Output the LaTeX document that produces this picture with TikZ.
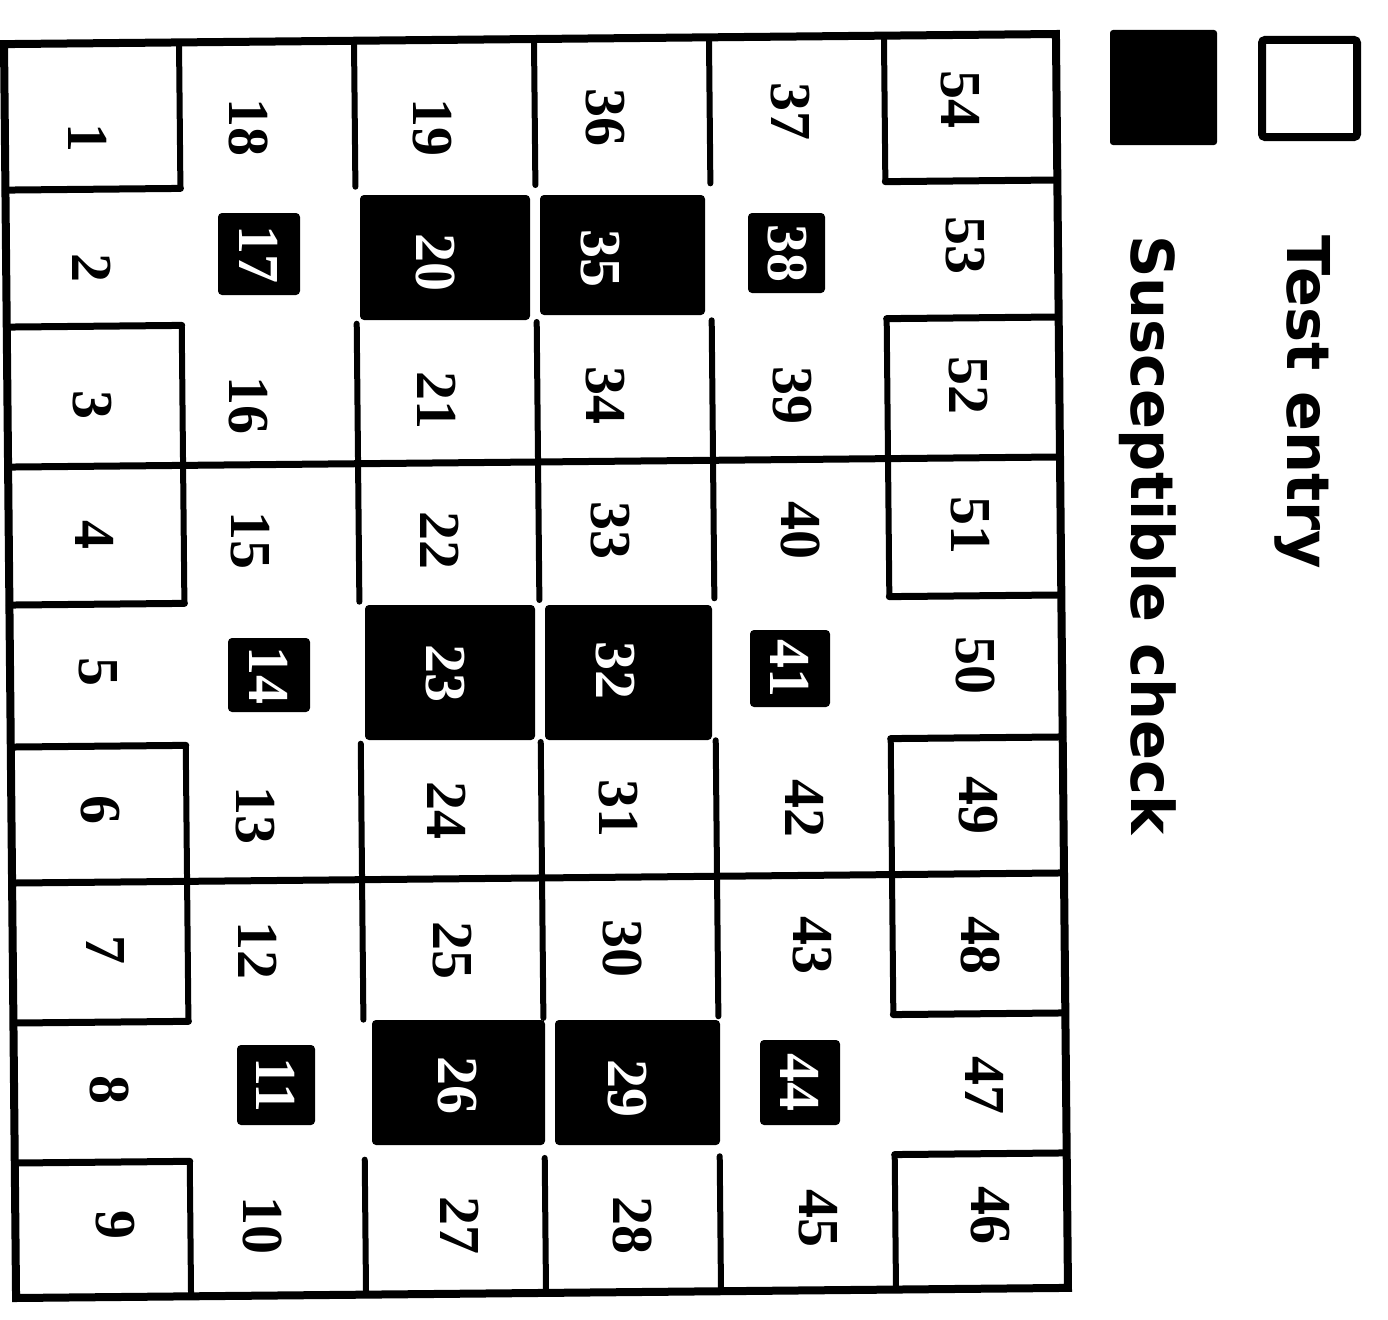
\documentclass[tikz,border=0pt]{standalone}
\usepackage{fontspec}
\setmainfont{Liberation Serif}
\newfontfamily\legendfont{DejaVu Sans}
\begin{document}
\begin{tikzpicture}[x=1pt,y=-1pt,
  num/.style={font=\bfseries\fontsize{58}{60}\selectfont, rotate=-90, inner sep=0pt},
  wnum/.style={num, text=white},
  blk/.style={fill=black, rounded corners=4pt},
  gline/.style={line width=7pt, line cap=round},
  legtext/.style={font=\legendfont\bfseries\fontsize{59}{64}\selectfont, rotate=-90, inner sep=0pt, anchor=base west}]
\useasboundingbox (0,0) rectangle (1388,1319);
% grid lines (slightly tilted like the scan)
\begin{scope}[rotate around={0.55:(536,666)}]
  \draw[gline, line width=8pt, line cap=butt, line join=miter] (10,39) rectangle (1062,1293);
  \draw[gline] (10,462) -- (1062,462);
  \draw[gline] (10,878) -- (1062,878);
  \foreach \xa in {185,360,540,715,890}
    \foreach \ya/\yb in {39/185, 322/600, 742/1018, 1158/1293}
      \draw[gline, line width=6pt] (\xa,\ya) -- (\xa,\yb);
  \foreach \ya in {185,322,600,742,1018,1158} {
    \draw[gline] (10,\ya) -- (185,\ya);
    \draw[gline] (890,\ya) -- (1062,\ya);
  }
\end{scope}
% susceptible check cells
\fill[blk] (360,195) rectangle (530,320);
\fill[blk] (540,195) rectangle (705,315);
\fill[blk] (365,605) rectangle (535,740);
\fill[blk] (545,605) rectangle (712,740);
\fill[blk] (372,1020) rectangle (545,1145);
\fill[blk] (555,1020) rectangle (720,1145);
\fill[blk] (218,213) rectangle (300,295);
\fill[blk] (748,213) rectangle (825,293);
\fill[blk] (228,638) rectangle (310,712);
\fill[blk] (750,630) rectangle (830,707);
\fill[blk] (237,1045) rectangle (315,1125);
\fill[blk] (760,1040) rectangle (840,1125);
% column 0
\node[num] (n1) at (88,138) {1};
\node[num] (n2) at (92,268) {2};
\node[num] (n3) at (92,405) {3};
\node[num] (n4) at (95,535) {4};
\node[num] (n5) at (98,672) {5};
\node[num] (n6) at (100,810) {6};
\node[num] (n7) at (105,950) {7};
\node[num] (n8) at (110,1090) {8};
\node[num] (n9) at (115,1225) {9};
% column 1
\node[num] (n18) at (248,128) {18};
\node[wnum] (n17) at (259,254) {17};
\node[num] (n16) at (248,405) {16};
\node[num] (n15) at (250,540) {15};
\node[wnum] (n14) at (269,675) {14};
\node[num] (n13) at (255,815) {13};
\node[num] (n12) at (258,950) {12};
\node[wnum] (n11) at (276,1085) {11};
\node[num] (n10) at (262,1225) {10};
% column 2
\node[num] (n19) at (432,128) {19};
\node[wnum] (n20) at (435,262) {20};
\node[num] (n21) at (437,400) {21};
\node[num] (n22) at (440,540) {22};
\node[wnum] (n23) at (445,673) {23};
\node[num] (n24) at (447,810) {24};
\node[num] (n25) at (452,950) {25};
\node[wnum] (n26) at (457,1085) {26};
\node[num] (n27) at (460,1225) {27};
% column 3
\node[num] (n36) at (605,118) {36};
\node[wnum] (n35) at (600,258) {35};
\node[num] (n34) at (605,395) {34};
\node[num] (n33) at (610,530) {33};
\node[wnum] (n32) at (615,670) {32};
\node[num] (n31) at (618,808) {31};
\node[num] (n30) at (622,948) {30};
\node[wnum] (n29) at (627,1088) {29};
\node[num] (n28) at (632,1225) {28};
% column 4
\node[num] (n37) at (790,112) {37};
\node[wnum] (n38) at (787,253) {38};
\node[num] (n39) at (792,395) {39};
\node[num] (n40) at (800,530) {40};
\node[wnum] (n41) at (790,668) {41};
\node[num] (n42) at (805,808) {42};
\node[num] (n43) at (812,945) {43};
\node[wnum] (n44) at (800,1082) {44};
\node[num] (n45) at (818,1218) {45};
% column 5
\node[num] (n54) at (960,100) {54};
\node[num] (n53) at (965,245) {53};
\node[num] (n52) at (968,385) {52};
\node[num] (n51) at (970,525) {51};
\node[num] (n50) at (975,665) {50};
\node[num] (n49) at (978,805) {49};
\node[num] (n48) at (980,945) {48};
\node[num] (n47) at (985,1085) {47};
\node[num] (n46) at (990,1215) {46};
% legend
\draw[line width=8pt, rounded corners=3pt] (1262,40) rectangle (1357,137);
\fill[rounded corners=3pt] (1110,30) rectangle (1217,145);
\node[legtext] (lt) at (1287,235) {Test entry};
\node[legtext] (ls) at (1131,235) {Susceptible check};
\end{tikzpicture}
\end{document}
